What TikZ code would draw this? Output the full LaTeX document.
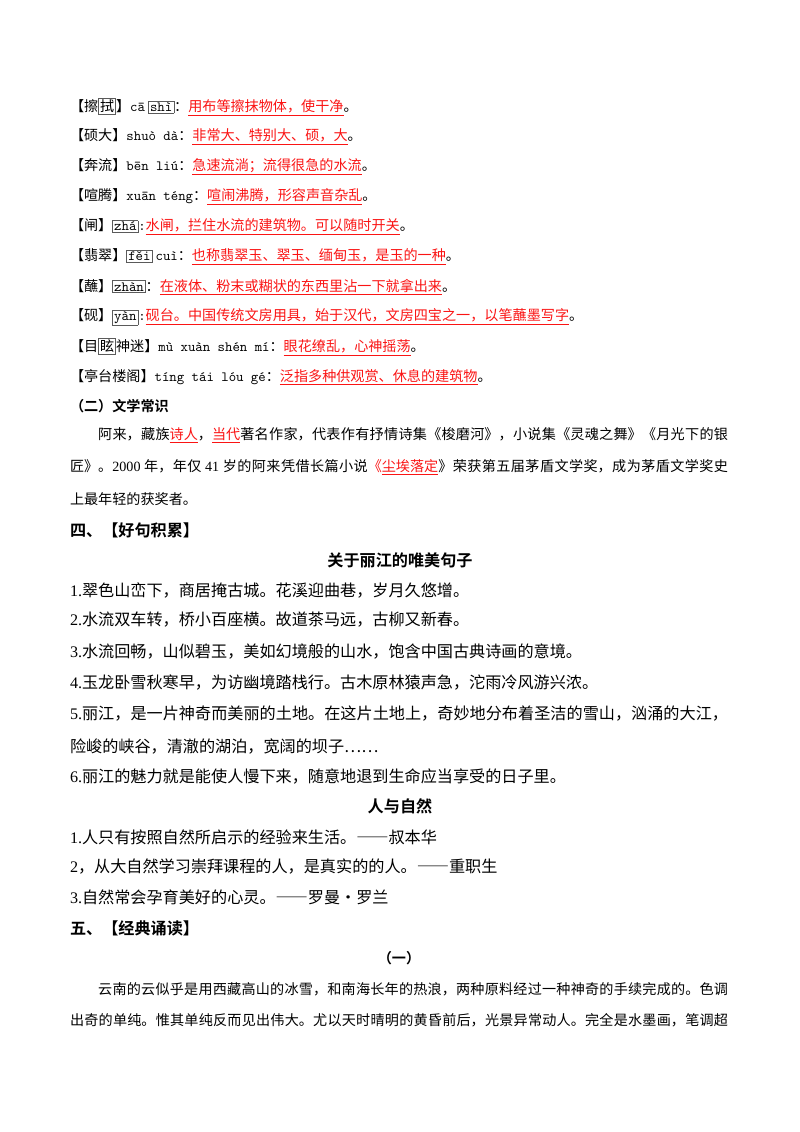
\documentclass[tikz,border=0pt]{standalone}
\usepackage{fontspec}
\setmainfont{Noto Sans CJK SC}[BoldFont={Noto Sans CJK SC Bold}]
\newfontfamily\numfont{Liberation Serif}
\XeTeXlinebreaklocale "zh"
\XeTeXlinebreakskip=0pt plus 1pt minus 0.1pt
\definecolor{notered}{RGB}{250,20,20}
\definecolor{boxgray}{RGB}{90,90,90}
\newcommand{\ru}[1]{{\color{notered}\underline{#1}}}
\newcommand{\bx}[1]{{\setlength{\fboxsep}{0.9pt}\setlength{\fboxrule}{0.5pt}\fcolorbox{boxgray}{white}{#1}}}
\newcommand{\py}[1]{{\ttfamily #1}}
\newcommand{\nm}[1]{{\numfont #1}}
\newcommand{\fwdash}{{\addfontfeature{RawFeature=+fwid}——}}

\begin{document}
\begin{tikzpicture}[x=0.744pt,y=-0.744pt,
   every node/.style={inner sep=0pt,outer sep=0pt,anchor=west},
   gloss/.style={font=\fontsize{10.5}{12}\selectfont},
   fullline/.style={text width=489.6pt,align=justify},
   verse/.style={font=\fontsize{12}{14}\selectfont},
   head/.style={font=\fontsize{12}{14}\selectfont\bfseries},
   subhead/.style={font=\fontsize{10.5}{12}\selectfont\bfseries},
   title/.style={anchor=center,font=\fontsize{12}{14}\selectfont\bfseries}]
   \useasboundingbox (0,0) rectangle (800,1132);
   \node[gloss] (g_1)  at (70,107) {【擦\bx{拭}】\py{cā} \bx{\py{shì}}：\ru{用布等擦抹物体，使干净}。};
   \node[gloss] (g_2)  at (70,137) {【硕大】\py{shuò dà}：\ru{非常大、特别大、硕，大}。};
   \node[gloss] (g_3)  at (70,167) {【奔流】\py{bēn liú}：\ru{急速流淌；流得很急的水流}。};
   \node[gloss] (g_4)  at (70,197) {【喧腾】\py{xuān téng}：\ru{喧闹沸腾，形容声音杂乱}。};
   \node[gloss] (g_5)  at (70,227) {【闸】\bx{\py{zhá}}\py{:}\ru{水闸，拦住水流的建筑物。可以随时开关}。};
   \node[gloss] (g_6)  at (70,257) {【翡翠】\bx{\py{fěi}} \py{cuì}：\ru{也称翡翠玉、翠玉、缅甸玉，是玉的一种}。};
   \node[gloss] (g_7)  at (70,287) {【蘸】\bx{\py{zhàn}}：\ru{在液体、粉末或糊状的东西里沾一下就拿出来}。};
   \node[gloss] (g_8)  at (70,317) {【砚】\bx{\py{yàn}}\py{:}\ru{砚台。中国传统文房用具，始于汉代，文房四宝之一，以笔蘸墨写字}。};
   \node[gloss] (g_9)  at (70,347) {【目\bx{眩}神迷】\py{mù xuàn shén mí}：\ru{眼花缭乱，心神摇荡}。};
   \node[gloss] (g_10) at (70,377) {【亭台楼阁】\py{tíng tái lóu gé}：\ru{泛指多种供观赏、休息的建筑物}。};
   \node[subhead] (h_2) at (70,406) {（二）文学常识};
   \node[gloss,fullline] (p_1) at (70,435) {\noindent\parfillskip=0pt\hspace*{2em}阿来，藏族\ru{诗人}，\ru{当代}著名作家，代表作有抒情诗集《梭磨河》，小说集《灵魂之舞》《月光下的银\par};
   \node[gloss,fullline] (p_2) at (70,467) {\noindent\parfillskip=0pt 匠》。\nm{2000} 年，年仅 \nm{41} 岁的阿来凭借长篇小说{\color{notered}《}\ru{尘埃落定}》荣获第五届茅盾文学奖，成为茅盾文学奖史\par};
   \node[gloss] (p_3) at (70,499) {上最年轻的获奖者。};
   \node[head] (h_4) at (70,530) {四、【好句积累】};
   \node[title] (t_1) at (400,560) {关于丽江的唯美句子};
   \node[verse] (v_1) at (70,590) {\nm{1.}翠色山峦下，商居掩古城。花溪迎曲巷，岁月久悠增。};
   \node[verse] (v_2) at (70,620) {\nm{2.}水流双车转，桥小百座横。故道茶马远，古柳又新春。};
   \node[verse] (v_3) at (70,652) {\nm{3.}水流回畅，山似碧玉，美如幻境般的山水，饱含中国古典诗画的意境。};
   \node[verse] (v_4) at (70,683) {\nm{4.}玉龙卧雪秋寒早，为访幽境踏栈行。古木原林猿声急，沱雨冷风游兴浓。};
   \node[verse,fullline] (v_5) at (70,714) {\noindent\parfillskip=0pt\nm{5.}丽江，是一片神奇而美丽的土地。在这片土地上，奇妙地分布着圣洁的雪山，汹涌的大江，\par};
   \node[verse] (v_6) at (70,746) {险峻的峡谷，清澈的湖泊，宽阔的坝子……};
   \node[verse] (v_7) at (70,776) {\nm{6.}丽江的魅力就是能使人慢下来，随意地退到生命应当享受的日子里。};
   \node[title] (t_2) at (400,806) {人与自然};
   \node[verse] (n_1) at (70,837) {\nm{1.}人只有按照自然所启示的经验来生活。\fwdash 叔本华};
   \node[verse] (n_2) at (70,867) {\nm{2}，从大自然学习崇拜课程的人，是真实的的人。\fwdash 重职生};
   \node[verse] (n_3) at (70,897) {\nm{3.}自然常会孕育美好的心灵。\fwdash 罗曼·罗兰};
   \node[head] (h_5) at (70,928) {五、【经典诵读】};
   \node[title,font=\fontsize{10.5}{12}\selectfont\bfseries] (t_3) at (399,958) {（一）};
   \node[gloss,fullline] (c_1) at (70,989) {\noindent\parfillskip=0pt\hspace*{2em}云南的云似乎是用西藏高山的冰雪，和南海长年的热浪，两种原料经过一种神奇的手续完成的。色调\par};
   \node[gloss,fullline] (c_2) at (70,1020) {\noindent\parfillskip=0pt 出奇的单纯。惟其单纯反而见出伟大。尤以天时晴明的黄昏前后，光景异常动人。完全是水墨画，笔调超\par};
\end{tikzpicture}
\end{document}
